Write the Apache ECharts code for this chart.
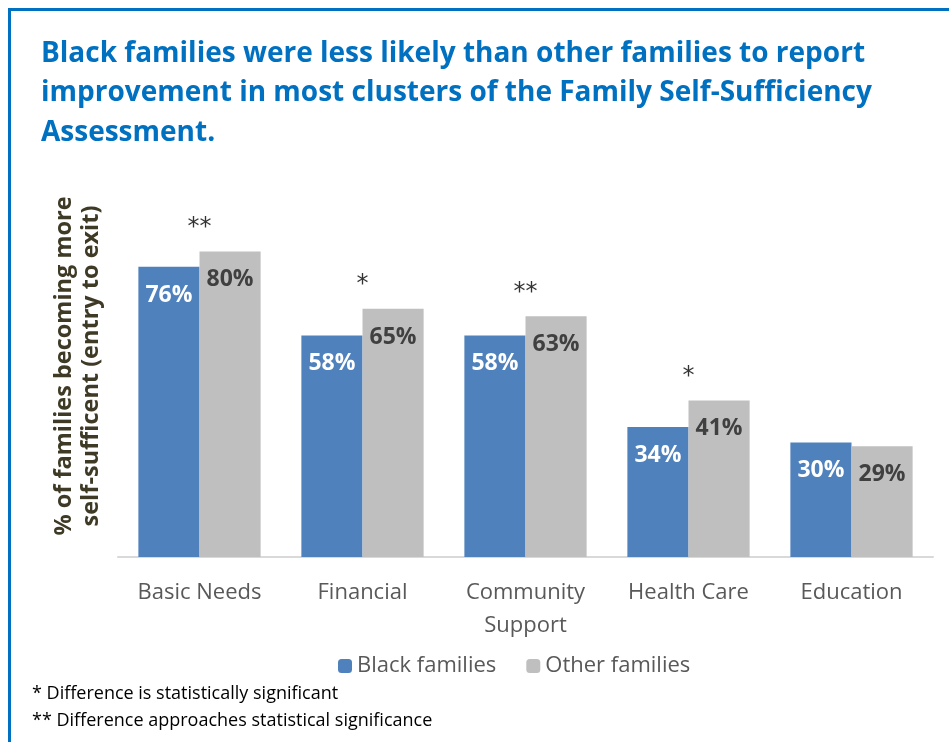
<!DOCTYPE html>
<html>
<head>
<meta charset="utf-8">
<script src="https://cdn.jsdelivr.net/npm/echarts@6/dist/echarts.min.js"></script>
<style>
  html, body { margin: 0; padding: 0; background: #fff; }
  #frame { position: absolute; left: 8px; top: 8px; width: 960px; height: 760px;
           border-left: 3px solid #0070C0; border-top: 3px solid #0070C0; }
  #chart { position: absolute; left: 0; top: 0; width: 949px; height: 742px; }
</style>
</head>
<body>
<div id="frame"></div>
<div id="chart"></div>
<script>
// Share of families becoming more self-sufficient, by assessment cluster
const categories = ['Basic Needs', 'Financial', 'Community\nSupport', 'Health Care', 'Education'];
const blackFamilies = [76, 58, 58, 34, 30];
const otherFamilies = [80, 65, 63, 41, 29];
const significance = ['**', '*', '**', '*', ''];
const footnotes = ['* Difference is statistically significant', '** Difference approaches statistical significance'];

const chart = echarts.init(document.getElementById('chart'), null, { renderer: 'canvas' });

const markerData = categories.map((c, i) => ({
  value: [i, Math.max(blackFamilies[i], otherFamilies[i])],
  label: { formatter: significance[i] }
}));

chart.setOption({
  animation: false,
  title: {
    text: 'Black families were less likely than other families to report\nimprovement in most clusters of the Family Self-Sufficiency\nAssessment.',
    left: 36, top: 29,
    textStyle: { color: '#0070C0', fontFamily: 'Open Sans', fontWeight: 'bold', fontSize: 28, lineHeight: 39.5 }
  },
  graphic: footnotes.map((t, i) => ({
    type: 'text', left: 32, top: 685 + i * 27,
    style: { text: t, fill: '#000', font: '18px "Open Sans"' }
  })),
  legend: {
    left: 333, top: 650, itemWidth: 14, itemHeight: 14, itemGap: 30,
    data: ['Black families', 'Other families'],
    textStyle: { color: '#595959', fontSize: 22, fontFamily: 'Open Sans' }
  },
  grid: { left: 118, right: 16, top: 175, bottom: 185 },
  xAxis: {
    type: 'category', data: categories,
    axisLine: { lineStyle: { color: '#d9d9d9', width: 2 } },
    axisTick: { show: false },
    axisLabel: { color: '#595959', fontSize: 22, fontFamily: 'Open Sans', margin: 19, lineHeight: 33 }
  },
  yAxis: {
    type: 'value', min: 0, max: 100,
    axisLabel: { show: false }, splitLine: { show: false }, axisLine: { show: false }, axisTick: { show: false },
    name: '% of families becoming more\nself-sufficent (entry to exit)',
    nameLocation: 'middle', nameRotate: 90, nameGap: 13,
    nameTextStyle: { color: '#3f3a26', fontSize: 23.5, fontWeight: 'bold', fontFamily: 'Open Sans', lineHeight: 27 }
  },
  series: [
    {
      name: 'Black families', type: 'bar', data: blackFamilies, barGap: '0%', barCategoryGap: '25%',
      itemStyle: { color: '#4F81BD' },
      label: { show: true, position: 'insideTop', distance: 17, formatter: '{c}%',
               color: '#fff', fontSize: 23, fontWeight: 'bold', fontFamily: 'Open Sans' }
    },
    {
      name: 'Other families', type: 'bar', data: otherFamilies,
      itemStyle: { color: '#BFBFBF' },
      label: { show: true, position: 'insideTop', distance: 17, formatter: '{c}%',
               color: '#404040', fontSize: 23, fontWeight: 'bold', fontFamily: 'Open Sans' }
    },
    {
      name: 'significance', type: 'scatter', data: markerData, symbolSize: 0,
      silent: true, legendHoverLink: false,
      label: { show: true, position: 'top', distance: 12, color: '#000', fontSize: 24, fontFamily: 'DejaVu Sans' }
    }
  ]
});
</script>
</body>
</html>
